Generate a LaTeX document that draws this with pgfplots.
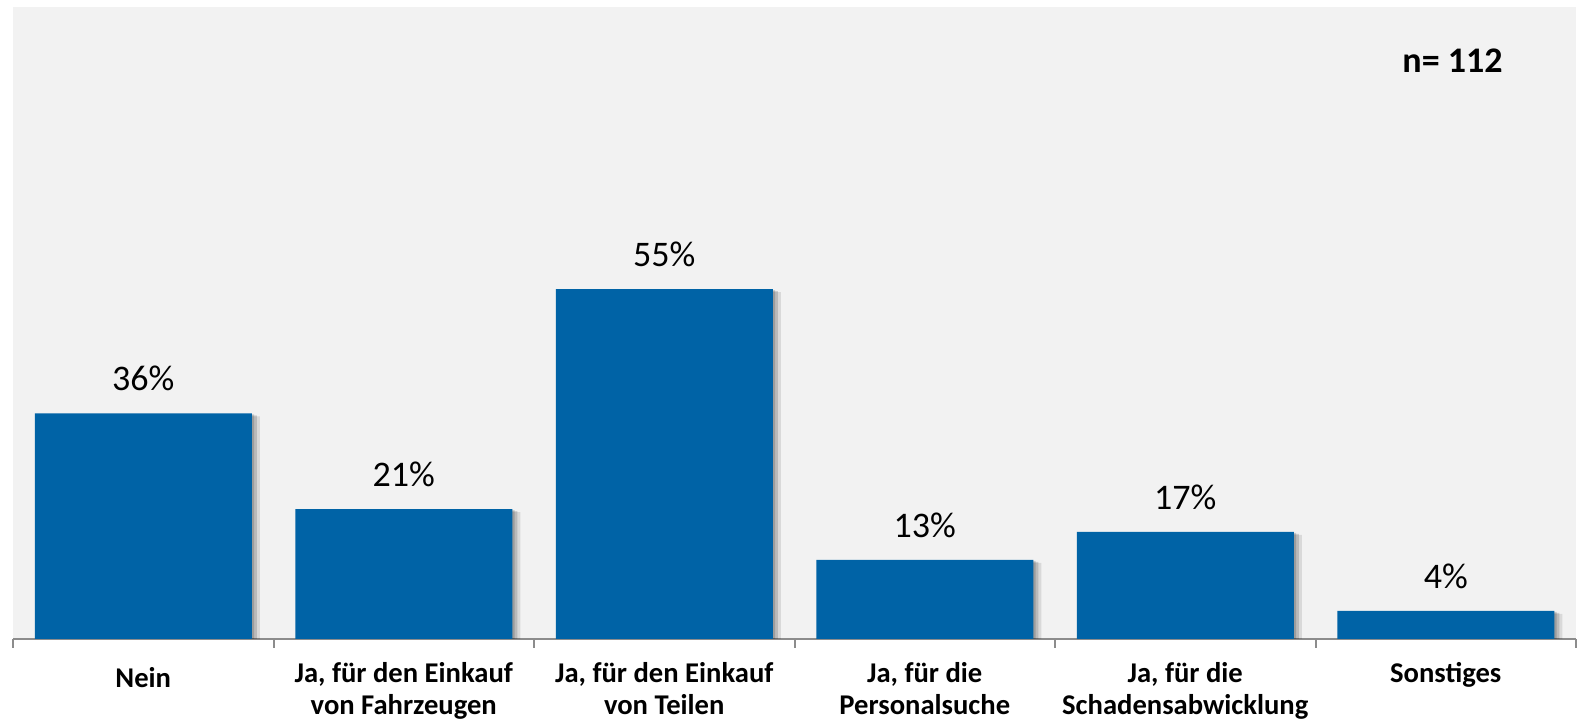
\documentclass[border=0pt]{standalone}
\usepackage{pgfplots}
\pgfplotsset{compat=1.18}
\usepackage{fontspec}
\setmainfont{Carlito}
\usetikzlibrary{shadows}
\definecolor{barblue}{RGB}{0,99,166}
\definecolor{bggray}{RGB}{242,242,242}
\definecolor{axgray}{RGB}{140,140,140}
\begin{document}
\begin{tikzpicture}
\begin{axis}[
  width=781.5pt, height=316pt, scale only axis,
  xmin=-0.5, xmax=5.5, ymin=0, ymax=100,
  axis x line=bottom, axis y line=none,
  axis line style={-, draw=axgray, line width=1pt},
  axis background/.style={fill=bggray},
  xtick={0,...,5},
  xticklabels={{\rule{0pt}{12.5pt}Nein}, {Ja, für den Einkauf\\von Fahrzeugen}, {Ja, für den Einkauf\\von Teilen}, {Ja, für die\\Personalsuche}, {Ja, für die\\Schadensabwicklung}, {Sonstiges}},
  major tick length=0pt,
  minor xtick={-0.5,0.5,...,5.5},
  minor tick length=4.5pt,
  tick align=outside,
  minor tick style={draw=axgray, line width=1pt},
  xticklabel style={align=center, font=\fontsize{14.3}{16}\selectfont\bfseries, inner sep=0pt, yshift=-11.5pt, anchor=north},
  ytick=\empty,
  clip=true,
  /pgf/number format/assume math mode=true,
]
\addplot[ybar, bar width=0.833, fill=barblue, draw=none,
  drop shadow={shadow xshift=4pt, shadow yshift=-1.5pt, fill=black, opacity=0.10},
  drop shadow={shadow xshift=2.5pt, shadow yshift=-1pt, fill=black, opacity=0.14},
  drop shadow={shadow xshift=1.2pt, shadow yshift=-0.5pt, fill=black, opacity=0.16},
  point meta=explicit,
  nodes near coords={\pgfmathprintnumber[fixed,precision=0,assume math mode=true]{\pgfplotspointmeta}\%},
  every node near coord/.append style={font=\fontsize{18}{20}\selectfont, text=black, inner sep=0pt, anchor=south, yshift=11pt},
] table[x=x, y=y, meta=lab] {
x y lab
0 35.71 36
1 20.54 21
2 55.36 55
3 12.50 13
4 16.96 17
5 4.46 4
};
\node[font=\fontsize{18}{20}\selectfont\bfseries, anchor=base] at (rel axis cs:0.921,0.896) {n= 112};
\end{axis}
\pgfresetboundingbox
\path ([xshift=-6.5pt, yshift=-43.5pt]current axis.south west) rectangle ([xshift=1pt, yshift=3.5pt]current axis.north east);
\end{tikzpicture}
\end{document}
